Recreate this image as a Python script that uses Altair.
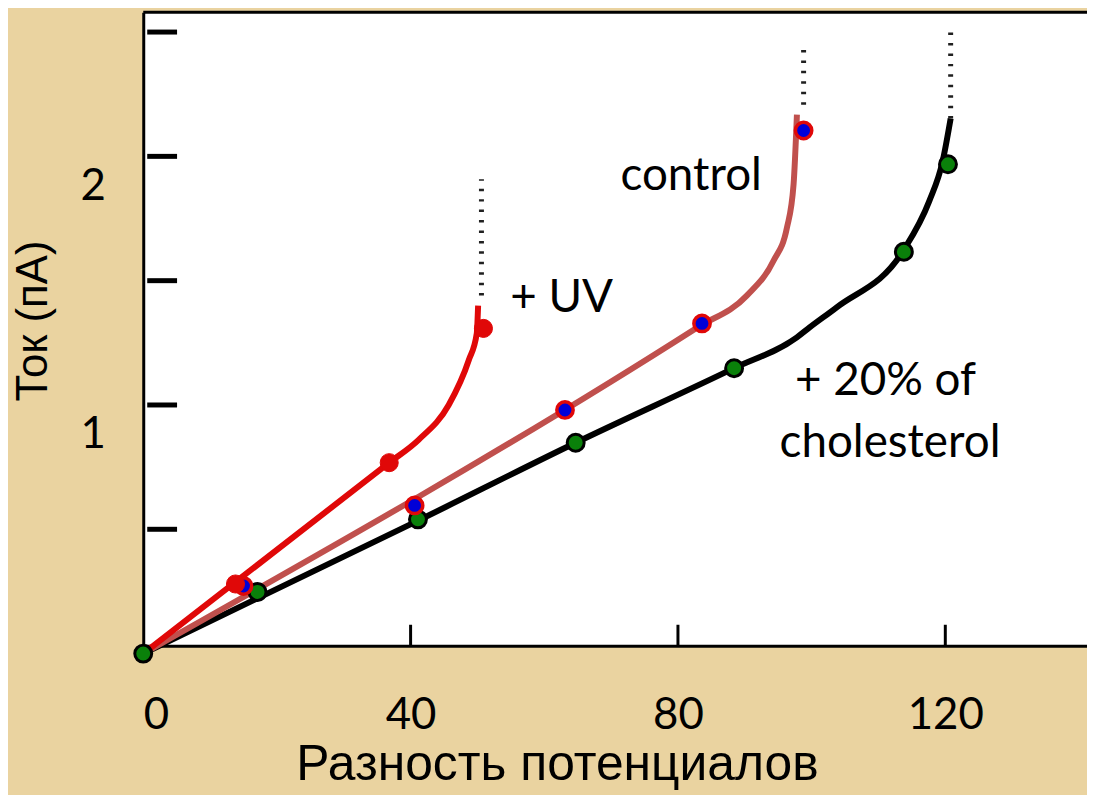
import altair as alt
import pandas as pd

# ---- data ----
# curves (smooth lines)
chol_x = [0, 41.2, 64.7, 88.4, 97.8, 99.7, 103.7, 113.7, 117.6, 119.6, 120.8]
chol_y = [0, 0.536, 0.848, 1.148, 1.272, 1.312, 1.392, 1.62, 1.82, 1.98, 2.152]
ctrl_x = [0, 82.9, 90.3, 94.3, 96.3, 97.3, 97.8]
ctrl_y = [0, 1.312, 1.44, 1.58, 1.712, 1.888, 2.168]
uv_x = [0, 36.8, 41.2, 45.7, 48.7, 49.9, 50.1]
uv_y = [0, 0.768, 0.86, 1.0, 1.18, 1.288, 1.40]

# measured points
chol_px = [0, 17.1, 41.1, 64.7, 88.4, 113.8, 120.4]
chol_py = [0, 0.248, 0.54, 0.848, 1.148, 1.616, 1.968]
ctrl_px = [15.0, 40.6, 63.1, 83.6, 98.8]
ctrl_py = [0.272, 0.596, 0.98, 1.328, 2.104]
uv_px = [13.8, 36.8, 50.9]
uv_py = [0.28, 0.768, 1.308]

# dotted continuations (x, y start, y end)
dot_series = ["chol", "ctrl", "uv"]
dot_x = [120.8, 98.8, 50.6]
dot_y1 = [2.152, 2.208, 1.44]
dot_y2 = [2.512, 2.432, 1.908]

# annotations
ann_text = ["+ UV", "control", "+ 20% of", "cholesterol"]
ann_x = [54.9, 71.4, 97.5, 95.2]
ann_y = [1.372, 1.864, 1.04, 0.792]

x_ticks = [40, 80, 120]
y_ticks = [0.5, 1.0, 1.5, 2.0, 2.5]
x_labels = [0, 40, 80, 120]
y_labels = [1, 2]

# ---- frames ----
def mk(xs, ys, name):
    return pd.DataFrame({"x": xs, "y": ys, "s": name, "i": range(len(xs))})

curves = pd.concat([mk(chol_x, chol_y, "chol"), mk(ctrl_x, ctrl_y, "ctrl"), mk(uv_x, uv_y, "uv")])
pts_chol = mk(chol_px, chol_py, "chol")
pts_ctrl = mk(ctrl_px, ctrl_py, "ctrl")
pts_uv = mk(uv_px, uv_py, "uv")
dots = pd.DataFrame({"s": dot_series, "x": dot_x, "y": dot_y1, "y2": dot_y2})
ann = pd.DataFrame({"t": ann_text, "x": ann_x, "y": ann_y})
xt = pd.DataFrame({"v": x_ticks})
yt = pd.DataFrame({"v": y_ticks})
one = pd.DataFrame({"a": [0]})

W, H = 949, 637
xscale = alt.Scale(domain=[0, 141.2], nice=False, zero=False)
yscale = alt.Scale(domain=[0.032, 2.58], nice=False, zero=False)

xaxis = alt.Axis(values=x_labels, ticks=False, grid=False, domainColor="black", domainWidth=3,
                 labelFont="Lato", labelFontSize=44, labelColor="black", labelPadding=48,
                 title="Разность потенциалов", titleFont="Liberation Sans", titleFontSize=50,
                 titleFontWeight="normal", titleColor="black", titleX=416, titleY=135,
                 titleBaseline="alphabetic", titleAlign="center")
yaxis = alt.Axis(values=y_labels, format="d", ticks=False, grid=False, domainColor="black", domainWidth=3,
                 labelFont="Lato", labelFontSize=44, labelColor="black", labelPadding=38,
                 labelOffset=30,
                 title="Ток (пА)", titleFont="Liberation Sans", titleFontSize=44,
                 titleFontWeight="normal", titleColor="black", titleX=-110, titleY=310,
                 titleBaseline="middle", titleAlign="center", titleAngle=-90)

X = alt.X("x:Q", scale=xscale, axis=xaxis)
Y = alt.Y("y:Q", scale=yscale, axis=yaxis)

lines = alt.Chart(curves).mark_line(interpolate="monotone", strokeCap="butt").encode(
    x=X, y=Y, order="i:Q",
    color=alt.Color("s:N", scale=alt.Scale(domain=["chol", "ctrl", "uv"],
                                           range=["#000000", "#C0504D", "#E00808"]), legend=None),
    strokeWidth=alt.StrokeWidth("s:N", scale=alt.Scale(domain=["chol", "ctrl", "uv"],
                                                       range=[6, 6, 5]), legend=None),
)

dotted = alt.Chart(dots).mark_rule(strokeWidth=5, strokeDash=[2.5, 8], color="#202020").encode(
    x="x:Q", y="y:Q", y2="y2:Q")

p_chol = alt.Chart(pts_chol).mark_point(filled=True, shape="circle", size=290, fill="#0A800A",
                                        stroke="black", strokeWidth=3, opacity=1).encode(x="x:Q", y="y:Q")
p_ctrl = alt.Chart(pts_ctrl).mark_point(filled=True, shape="circle", size=270, fill="#0000D8",
                                        stroke="#E00808", strokeWidth=3.5, opacity=1).encode(x="x:Q", y="y:Q")
p_uv = alt.Chart(pts_uv).mark_point(filled=True, shape="circle", size=330, fill="#E00808",
                                    stroke="#E00808", strokeWidth=1, opacity=1).encode(x="x:Q", y="y:Q")

texts = alt.Chart(ann).mark_text(font="Lato", fontSize=46, align="left", baseline="alphabetic",
                                 color="black").encode(x="x:Q", y="y:Q", text="t:N")

ytick_marks = alt.Chart(yt).mark_rule(strokeWidth=5, color="black").encode(
    y="v:Q", x=alt.value(4), x2=alt.value(34))
xtick_marks = alt.Chart(xt).mark_rule(strokeWidth=3, color="black").encode(
    x="v:Q", y=alt.value(H - 21), y2=alt.value(H))
top_border = alt.Chart(one).mark_rule(strokeWidth=3, color="black").encode(
    y=alt.value(0), x=alt.value(0), x2=alt.value(W))

chart = alt.layer(
    lines, dotted, ytick_marks, xtick_marks, top_border, p_chol, p_ctrl, p_uv, texts
).properties(
    width=W, height=H,
    autosize=alt.AutoSizeParams(type="none"),
    padding={"left": 136, "top": 2, "right": 0, "bottom": 148},
    background="#EAD3A0",
).configure_view(fill="white", stroke=None)

chart.save("out.html", embed_options={"renderer": "svg", "actions": False})
